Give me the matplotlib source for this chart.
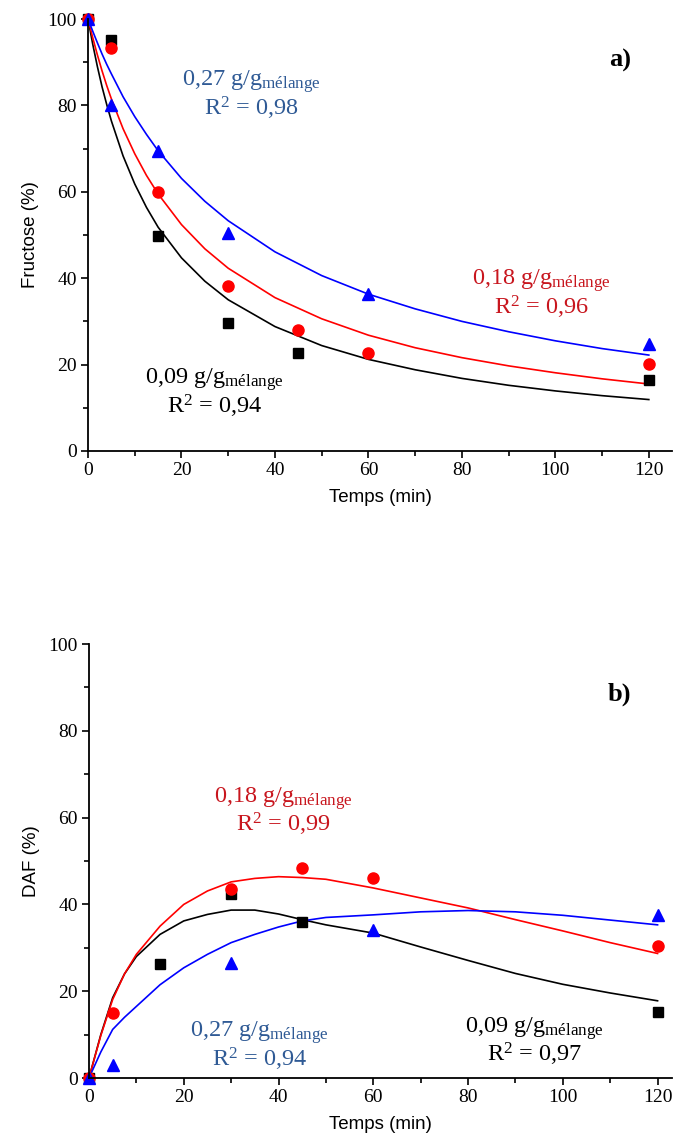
import matplotlib
matplotlib.use("Agg")
import matplotlib.pyplot as plt
from matplotlib.ticker import MultipleLocator

plt.rcParams['mathtext.fontset'] = 'custom'
plt.rcParams['mathtext.rm'] = 'Liberation Serif'
plt.rcParams['mathtext.it'] = 'Liberation Serif:italic'

# ---- panel a) Fructose: measured points
t_a_black = [0, 5, 15, 30, 45, 120]
fr_black = [100, 95.2, 49.8, 29.7, 22.6, 16.5]
t_a_red = [0, 5, 15, 30, 45, 60, 120]
fr_red = [100, 93.2, 59.9, 38.3, 27.9, 22.6, 20.2]
t_a_blue = [0, 5, 15, 30, 60, 120]
fr_blue = [100, 80.0, 69.5, 50.5, 36.4, 24.7]

# fitted curves
t_a_fit = [0, 1, 2, 3, 4, 5, 7.5, 10, 12.5, 15, 20, 25, 30, 40, 50, 60, 70, 80, 90, 100, 110, 120]
fr_fit_black = [100, 94.2, 89.0, 84.3, 80.2, 76.4, 68.3, 61.8, 56.4, 51.8, 44.7, 39.3, 35.0,
                28.8, 24.4, 21.2, 18.8, 16.8, 15.2, 13.9, 12.8, 11.9]
fr_fit_red = [100, 95.7, 91.7, 88.0, 84.6, 81.5, 74.6, 68.8, 63.8, 59.5, 52.4, 46.8, 42.3,
              35.5, 30.6, 26.8, 23.9, 21.6, 19.7, 18.1, 16.7, 15.5]
fr_fit_blue = [100, 97.2, 94.5, 91.9, 89.5, 87.3, 82.0, 77.4, 73.3, 69.5, 63.1, 57.8, 53.3,
               46.1, 40.6, 36.3, 32.9, 30.0, 27.6, 25.5, 23.7, 22.2]

# ---- panel b) DAF: measured points
t_b_black = [0, 15, 30, 45, 120]
daf_black = [0, 26.2, 42.5, 36.0, 15.3]
t_b_red = [0, 5, 30, 45, 60, 120]
daf_red = [0, 14.9, 43.5, 48.3, 46.0, 30.5]
t_b_blue = [0, 5, 30, 60, 120]
daf_blue = [0, 2.9, 26.6, 34.1, 37.5]

t_b_fit = [0, 2.5, 5, 7.5, 10, 15, 20, 25, 30, 35, 40, 45, 50, 60, 70, 80, 90, 100, 110, 120]
daf_fit_black = [0, 10, 18.5, 24, 28, 33.1, 36.2, 37.7, 38.7, 38.7, 37.8, 36.5, 35.3,
                 33.4, 30.2, 27.1, 24.1, 21.6, 19.6, 17.8]
daf_fit_red = [0, 9.8, 18.1, 24, 28.5, 35, 40, 43.1, 45.2, 46.0, 46.4, 46.2, 45.8,
               43.8, 41.5, 39.2, 36.5, 33.9, 31.2, 28.7]
daf_fit_blue = [0, 6, 11.2, 14, 16.5, 21.5, 25.4, 28.5, 31.2, 33.1, 34.8, 36.2, 37.0,
                37.6, 38.3, 38.6, 38.3, 37.5, 36.4, 35.3]

SERIF = 'Liberation Serif'
SANS = 'Liberation Sans'
TXT_BLUE = '#2F5A95'
TXT_RED = '#C8161E'


def style_axes(ax, xmax, ylabel):
    ax.set_xlim(0, xmax)
    ax.set_ylim(0, 100)
    for s in ['top', 'right']:
        ax.spines[s].set_visible(False)
    for s in ['left', 'bottom']:
        ax.spines[s].set_linewidth(1.3)
    ax.xaxis.set_major_locator(MultipleLocator(20))
    ax.xaxis.set_minor_locator(MultipleLocator(10))
    ax.yaxis.set_major_locator(MultipleLocator(20))
    ax.yaxis.set_minor_locator(MultipleLocator(10))
    ax.tick_params(which='major', direction='out', length=5, width=1.2, labelsize=14, pad=3)
    ax.tick_params(which='minor', direction='out', length=3.5, width=1.2)
    for lab in ax.get_xticklabels() + ax.get_yticklabels():
        lab.set_fontfamily(SERIF)
    ax.set_xlabel('Temps (min)', fontfamily=SANS, fontsize=13.5, labelpad=7)
    ax.set_ylabel(ylabel, fontfamily=SANS, fontsize=13.5, labelpad=6)


def label(ax, x, y, conc, r2, color):
    ax.text(x, y, conc + r' g/g$_{\mathrm{mélange}}$', color=color, fontsize=17.5,
            fontfamily=SERIF, ha='center', va='baseline')
    ax.text(x, y - 6.8, r'R$^{2}$ = ' + r2, color=color, fontsize=17.5,
            fontfamily=SERIF, ha='center', va='baseline')


fig = plt.figure(figsize=(6.73, 11.46), dpi=100)

# panel a
ax1 = fig.add_axes([0.1308, 0.6065, 0.868, 0.3769])
ax1.plot(t_a_fit, fr_fit_black, color='black', lw=1.2)
ax1.plot(t_a_fit, fr_fit_red, color='red', lw=1.2)
ax1.plot(t_a_fit, fr_fit_blue, color='blue', lw=1.2)
ax1.plot(t_a_black, fr_black, 's', color='black', ms=7.5, clip_on=False)
ax1.plot(t_a_red, fr_red, 'o', color='red', ms=8, clip_on=False)
ax1.plot(t_a_blue, fr_blue, '^', color='blue', ms=8.5, clip_on=False)
style_axes(ax1, 125, 'Fructose (%)')
label(ax1, 35, 84.5, '0,27', '0,98', TXT_BLUE)
label(ax1, 97, 38.5, '0,18', '0,96', TXT_RED)
label(ax1, 27, 15.5, '0,09', '0,94', 'black')
ax1.text(111.5, 89, 'a)', fontsize=19, fontweight='bold', fontfamily=SERIF)

# panel b
ax2 = fig.add_axes([0.1322, 0.0593, 0.866, 0.3787])
ax2.plot(t_b_fit, daf_fit_black, color='black', lw=1.2)
ax2.plot(t_b_fit, daf_fit_red, color='red', lw=1.2)
ax2.plot(t_b_fit, daf_fit_blue, color='blue', lw=1.2)
ax2.plot(t_b_black, daf_black, 's', color='black', ms=7.5, clip_on=False)
ax2.plot(t_b_red, daf_red, 'o', color='red', ms=8, clip_on=False)
ax2.plot(t_b_blue, daf_blue, '^', color='blue', ms=8.5, clip_on=False)
style_axes(ax2, 123, 'DAF (%)')
label(ax2, 41, 63.5, '0,18', '0,99', TXT_RED)
label(ax2, 36, 9.5, '0,27', '0,94', TXT_BLUE)
label(ax2, 94, 10.5, '0,09', '0,97', 'black')
ax2.text(109.5, 87, 'b)', fontsize=19, fontweight='bold', fontfamily=SERIF)

fig.savefig('out.png', dpi=100)
